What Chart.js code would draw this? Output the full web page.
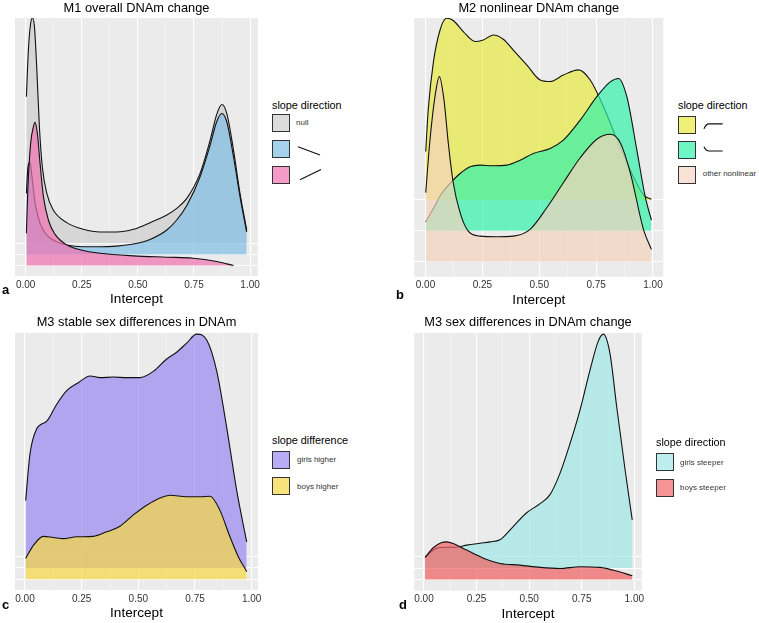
<!DOCTYPE html>
<html>
<head>
<meta charset="utf-8">
<script src="https://cdn.jsdelivr.net/npm/chart.js@4.4.0/dist/chart.umd.min.js"></script>
<style>
  body { margin: 0; background: #fff; font-family: "Liberation Sans", Arial, sans-serif; }
  #wrap { position: relative; width: 759px; height: 623px; overflow: hidden; }
  canvas { position: absolute; }
  .tag { position: absolute; font-weight: bold; font-size: 13px; line-height: 14px; color: #000; }
  .ltitle { position: absolute; font-size: 10.8px; line-height: 12px; color: #000; white-space: nowrap; }
  .key { position: absolute; width: 18px; height: 18px; box-sizing: border-box; border: 1px solid #333; }
  .lab { position: absolute; font-size: 8px; line-height: 10px; color: #333; white-space: nowrap; }
  svg { position: absolute; overflow: visible; }
</style>
</head>
<body>
<div id="wrap">
  <canvas id="pa" width="270" height="310" style="left:0px;top:0px"></canvas>
  <canvas id="pb" width="270" height="310" style="left:400px;top:0px"></canvas>
  <canvas id="pc" width="270" height="313" style="left:0px;top:310px"></canvas>
  <canvas id="pd" width="270" height="313" style="left:400px;top:310px"></canvas>
</div>
<script>
const FONT = '"Liberation Sans", Arial, sans-serif';

// x tick positions shared by all panels (majors get labels, minors only grid)
const xTicks = [0, 0.125, 0.25, 0.375, 0.5, 0.625, 0.75, 0.875, 1];
const ridgeRows = [1, 2, 3];

// ---- panel a: M1 overall DNAm change ----
const m1NullX = [0.003, 0.012, 0.022, 0.030, 0.039, 0.049, 0.061, 0.074, 0.094, 0.123, 0.183, 0.257, 0.331, 0.406, 0.480, 0.554, 0.629, 0.673, 0.718, 0.777, 0.822, 0.851, 0.874, 0.896, 0.926, 0.955, 0.985];
const m1NullH = [13.2, 17.4, 19.8, 20.3, 19.5, 15.9, 10.5, 6.9, 4.5, 3.0, 1.86, 1.26, 1.02, 1.02, 1.26, 1.86, 2.55, 3.15, 4.05, 6.3, 9.3, 11.6, 12.5, 11.7, 8.4, 4.5, 1.2];
const m1DownX = [0.003, 0.010, 0.019, 0.028, 0.042, 0.064, 0.094, 0.138, 0.183, 0.257, 0.331, 0.406, 0.480, 0.554, 0.629, 0.673, 0.718, 0.777, 0.822, 0.851, 0.874, 0.896, 0.926, 0.955, 0.985];
const m1DownH = [5.5, 7.9, 8.3, 7.0, 4.6, 2.8, 1.74, 1.14, 0.84, 0.69, 0.69, 0.75, 0.93, 1.35, 2.2, 3.1, 4.4, 7.0, 9.85, 11.95, 12.7, 11.95, 8.8, 5.2, 2.0];
const m1UpX = [0.003, 0.010, 0.022, 0.034, 0.042, 0.052, 0.064, 0.079, 0.101, 0.131, 0.183, 0.257, 0.331, 0.480, 0.629, 0.747, 0.851, 0.926];
const m1UpH = [2.9, 7.1, 11.0, 12.5, 12.9, 11.9, 9.2, 6.2, 4.1, 2.8, 1.86, 1.35, 1.1, 0.87, 0.75, 0.66, 0.36, 0.0];

// ---- panel b: M2 nonlinear DNAm change ----
const m2CapX = [0.001, 0.012, 0.034, 0.064, 0.093, 0.122, 0.166, 0.218, 0.254, 0.298, 0.342, 0.386, 0.445, 0.504, 0.548, 0.606, 0.672, 0.724, 0.782, 0.842, 0.900, 0.959, 0.993];
const m2CapH = [1.57, 2.92, 4.43, 5.51, 5.89, 5.82, 5.46, 5.14, 5.19, 5.35, 5.21, 4.86, 4.38, 3.89, 3.84, 4.05, 4.22, 3.89, 3.03, 1.95, 0.97, 0.16, 0.02];
const m2CupX = [0.001, 0.034, 0.071, 0.108, 0.152, 0.196, 0.240, 0.298, 0.357, 0.416, 0.474, 0.548, 0.606, 0.680, 0.753, 0.812, 0.848, 0.885, 0.929, 0.966, 0.993];
const m2CupH = [0.29, 0.72, 1.21, 1.54, 1.86, 2.08, 2.13, 2.11, 2.13, 2.29, 2.51, 2.67, 2.94, 3.59, 4.35, 4.83, 4.94, 4.35, 2.62, 1.1, 0.35];
const m2OtherX = [0.001, 0.020, 0.042, 0.061, 0.081, 0.100, 0.122, 0.152, 0.188, 0.240, 0.313, 0.386, 0.460, 0.533, 0.606, 0.680, 0.753, 0.812, 0.856, 0.900, 0.958, 0.993];
const m2OtherH = [2.24, 3.97, 5.37, 6.0, 5.26, 3.86, 2.56, 1.59, 0.99, 0.83, 0.81, 0.83, 1.05, 1.75, 2.56, 3.37, 3.97, 4.13, 3.86, 2.89, 1.05, 0.4];

// ---- panel c: M3 stable sex differences ----
const m3GirlsX = [0.003, 0.022, 0.051, 0.096, 0.140, 0.184, 0.235, 0.287, 0.331, 0.390, 0.449, 0.507, 0.566, 0.625, 0.669, 0.713, 0.757, 0.801, 0.846, 0.890, 0.934, 0.978];
const m3GirlsH = [5.97, 10.1, 12.3, 13.0, 14.5, 15.7, 16.4, 17.0, 16.85, 16.9, 16.85, 16.85, 17.4, 18.5, 19.1, 19.9, 20.7, 20.2, 17.4, 12.4, 6.85, 2.3];
const m3BoysX = [0.003, 0.037, 0.081, 0.125, 0.169, 0.228, 0.301, 0.360, 0.419, 0.478, 0.537, 0.596, 0.640, 0.713, 0.772, 0.816, 0.860, 0.904, 0.941, 0.978];
const m3BoysH = [1.85, 3.0, 3.8, 3.7, 3.6, 3.76, 3.8, 4.2, 4.7, 5.7, 6.56, 7.2, 7.44, 7.3, 7.3, 7.35, 6.1, 3.76, 2.0, 0.68];

// ---- panel d: M3 sex differences in change ----
const m3GSteepX = [0.005, 0.029, 0.060, 0.108, 0.155, 0.203, 0.266, 0.314, 0.361, 0.425, 0.488, 0.552, 0.599, 0.647, 0.694, 0.742, 0.789, 0.829, 0.853, 0.884, 0.916, 0.956, 0.990];
const m3GSteepH = [0.97, 1.38, 1.76, 1.85, 1.85, 2.03, 2.2, 2.32, 2.5, 3.7, 4.9, 5.7, 6.5, 8.4, 11.0, 14.0, 17.5, 20.1, 20.7, 19.0, 14.3, 8.7, 4.26];
const m3BSteepX = [0.005, 0.044, 0.084, 0.108, 0.139, 0.187, 0.235, 0.298, 0.361, 0.456, 0.552, 0.647, 0.742, 0.837, 0.916, 0.990];
const m3BSteepH = [1.94, 2.8, 3.26, 3.32, 3.18, 2.74, 2.3, 1.76, 1.41, 1.26, 1.06, 0.97, 1.12, 1.06, 0.74, 0.32];

function isMajor(v) {
  return Math.abs(v * 4 - Math.round(v * 4)) < 1e-6;
}

// one ridge: density heights sitting on a baseline row, filled down to it
function ridge(xs, hs, base, fillColor, order) {
  return {
    data: xs.map((x, i) => ({ x: x, y: base + hs[i] })),
    fill: { value: base },
    backgroundColor: fillColor,
    borderColor: '#111',
    borderWidth: 1.1,
    pointRadius: 0,
    cubicInterpolationMode: 'monotone',
    order: order
  };
}

const panelBg = {
  id: 'panelBg',
  beforeDraw(chart) {
    const a = chart.chartArea;
    const ctx = chart.ctx;
    ctx.save();
    ctx.fillStyle = '#EBEBEB';
    ctx.fillRect(a.left, a.top, a.right - a.left, a.bottom - a.top);
    ctx.restore();
  }
};

function makeChart(id, cfg) {
  return new Chart(document.getElementById(id), {
    type: 'line',
    data: { datasets: cfg.datasets },
    options: {
      responsive: false,
      animation: false,
      devicePixelRatio: 1,
      layout: { padding: cfg.pad },
      plugins: {
        legend: { display: false },
        tooltip: { enabled: false },
        title: {
          display: true,
          text: cfg.title,
          color: '#000',
          font: { family: FONT, size: 12.8, weight: 'normal' },
          padding: cfg.titlePad
        }
      },
      scales: {
        x: {
          type: 'linear',
          min: cfg.xMin,
          max: cfg.xMax,
          afterBuildTicks: (s) => { s.ticks = xTicks.map(v => ({ value: v })); },
          ticks: {
            autoSkip: false,
            maxRotation: 0,
            padding: 3,
            color: '#333',
            font: { family: FONT, size: 10 },
            callback: (v) => isMajor(v) ? v.toFixed(2) : ''
          },
          grid: {
            drawTicks: false,
            color: (c) => isMajor(c.tick.value) ? '#ffffff' : 'rgba(255,255,255,0.65)',
            lineWidth: (c) => isMajor(c.tick.value) ? 1.1 : 0.55
          },
          border: { display: false },
          title: { display: true, text: 'Intercept', color: '#000', font: { family: FONT, size: 13.6 }, padding: { top: -2.9, bottom: 0 } }
        },
        y: {
          type: 'linear',
          min: cfg.yMin,
          max: cfg.yMax,
          afterBuildTicks: (s) => { s.ticks = ridgeRows.map(v => ({ value: v })); },
          ticks: { display: false },
          grid: { drawTicks: false, color: '#ffffff', lineWidth: 1.1 },
          border: { display: false }
        }
      }
    },
    plugins: [panelBg]
  });
}

makeChart('pa', {
  title: 'M1 overall DNAm change',
  titlePad: { top: 1, bottom: 1.64 },
  pad: { left: 15, right: 12, top: 0, bottom: 2.58 },
  xMin: -0.0477, xMax: 1.0352, yMin: 0.054, yMax: 23.3,
  datasets: [
    ridge(m1NullX, m1NullH, 3, 'rgba(205,205,205,0.7)', 3),
    ridge(m1DownX, m1DownH, 2, 'rgba(128,191,231,0.7)', 2),
    ridge(m1UpX, m1UpH, 1, 'rgba(241,112,176,0.7)', 1)
  ]
});

makeChart('pb', {
  title: 'M2 nonlinear DNAm change',
  titlePad: { top: 1, bottom: 1.64 },
  pad: { left: 14.3, right: 6.7, top: 0, bottom: 1.88 },
  xMin: -0.0492, xMax: 1.0453, yMin: 0.514, yMax: 8.9,
  datasets: [
    ridge(m2CapX, m2CapH, 3, 'rgba(231,233,65,0.7)', 3),
    ridge(m2CupX, m2CupH, 2, 'rgba(51,241,171,0.7)', 2),
    ridge(m2OtherX, m2OtherH, 1, 'rgba(245,211,188,0.7)', 1)
  ]
});

makeChart('pc', {
  title: 'M3 stable sex differences in DNAm',
  titlePad: { top: 5, bottom: 2.64 },
  pad: { left: 15, right: 12, top: 0, bottom: 1.58 },
  xMin: -0.0441, xMax: 1.0278, yMin: 0.053, yMax: 22.8,
  datasets: [
    ridge(m3GirlsX, m3GirlsH, 2, 'rgba(154,136,241,0.7)', 2),
    ridge(m3BoysX, m3BoysH, 1, 'rgba(245,216,65,0.7)', 1)
  ]
});

makeChart('pd', {
  title: 'M3 sex differences in DNAm change',
  titlePad: { top: 5, bottom: 2.64 },
  pad: { left: 14.3, right: 28.3, top: 0, bottom: 0.88 },
  xMin: -0.0461, xMax: 1.035, yMin: 0.0, yMax: 22.8,
  datasets: [
    ridge(m3GSteepX, m3GSteepH, 2, 'rgba(161,231,231,0.7)', 2),
    ridge(m3BSteepX, m3BSteepH, 1, 'rgba(241,96,96,0.7)', 1)
  ]
});

// ---- legends and panel tags (plain html) ----
const wrap = document.getElementById('wrap');

function add(cls, left, top, html, style) {
  const d = document.createElement('div');
  d.className = cls;
  d.style.left = left + 'px';
  d.style.top = top + 'px';
  if (style) d.style.cssText += style;
  d.innerHTML = html;
  wrap.appendChild(d);
  return d;
}

function glyph(left, top, path) {
  const ns = 'http://www.w3.org/2000/svg';
  const s = document.createElementNS(ns, 'svg');
  s.setAttribute('width', '30');
  s.setAttribute('height', '20');
  s.style.left = left + 'px';
  s.style.top = top + 'px';
  const p = document.createElementNS(ns, 'path');
  p.setAttribute('d', path);
  p.setAttribute('fill', 'none');
  p.setAttribute('stroke', '#111');
  p.setAttribute('stroke-width', '1.2');
  s.appendChild(p);
  wrap.appendChild(s);
}

// panel a legend
add('ltitle', 272, 99, 'slope direction');
add('key', 272, 114, '', 'background:#DCDCDC');
add('key', 272, 140, '', 'background:#A6D2EE');
add('key', 272, 165.5, '', 'background:#F59BC8');
add('lab', 296, 118, 'null');
glyph(296, 140, 'M2 6.7 L24 15');
glyph(296, 165.5, 'M4 13.8 L25 3.5');

// panel b legend
add('ltitle', 678, 99, 'slope direction');
add('key', 677.5, 115.5, '', 'background:#EEF07A');
add('key', 677.5, 141, '', 'background:#70F5C4');
add('key', 677.5, 165.5, '', 'background:#F8E2D4');
glyph(702, 115.5, 'M2 12.8 Q4 7.8 7 7.8 L20.7 7.8');
glyph(702, 141, 'M2 5.7 Q4 10 7 10 L20.7 10');
add('lab', 702.7, 169, 'other nonlinear');

// panel c legend
add('ltitle', 272, 434, 'slope difference');
add('key', 272, 451, '', 'background:#B8ACF5');
add('key', 272, 477, '', 'background:#F8E27A');
add('lab', 297, 455, 'girls higher');
add('lab', 297, 481.5, 'boys higher');

// panel d legend
add('ltitle', 656, 436.3, 'slope direction');
add('key', 656, 453, '', 'background:#BDEEEE');
add('key', 656, 478.5, '', 'background:#F59494');
add('lab', 680, 457.5, 'girls steeper');
add('lab', 680, 482.5, 'boys steeper');

// panel tags
add('tag', 2, 283, 'a');
add('tag', 396, 288, 'b');
add('tag', 2, 598, 'c');
add('tag', 399, 598, 'd');
</script>
</body>
</html>
